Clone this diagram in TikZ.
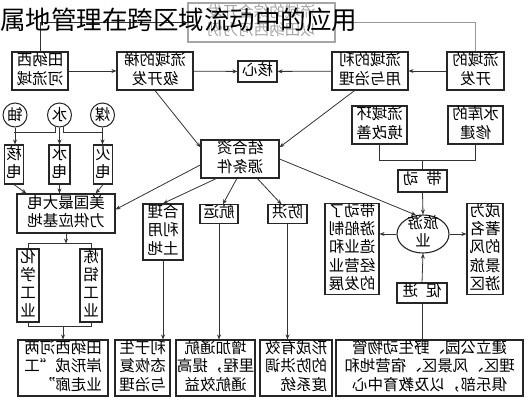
\documentclass[tikz,border=0pt]{standalone}
\usepackage{fontspec}
\setmainfont{Noto Sans CJK SC}
\usetikzlibrary{arrows.meta,calc,shapes.geometric}

% mirrored block of text lines
\newcommand{\rv}[2][c]{\reflectbox{\begin{tabular}{@{}#1@{}}#2\end{tabular}}}

\tikzset{
  box/.style={draw=black!85, line width=1.1pt, inner sep=0pt, align=center, font=\fontsize{15.5}{17.5}\selectfont},
  src/.style={draw=black!85, line width=1pt, circle, inner sep=0pt, minimum size=24pt, font=\fontsize{15.5}{17.5}\selectfont},
  link/.style={draw=black!80, line width=0.8pt},
  arr/.style={-{Stealth[length=5pt,width=4pt]}},
}

\begin{document}
\begin{tikzpicture}[x=1pt,y=-1pt]
  \useasboundingbox (0,0) rectangle (529,400);
  % faded heading box
  \node[box, draw=black!35, text=black!35, minimum width=147, minimum height=39] (Z) at (261.5,22.5) {\rv{流域的综合开发\\以田纳西河为例}};
  % top row
  \node[box, minimum width=56, minimum height=38] (A) at (40,71) {\rv{田纳西\\河流域}};
  \node[box, minimum width=76, minimum height=38] (B) at (155,71) {\rv{流域的梯\\级开发}};
  \node[box, minimum width=39, minimum height=21] (C) at (257.5,71.5) {\rv{核心}};
  \node[box, minimum width=76, minimum height=38] (D) at (370,71) {\rv{流域的利\\用与治理}};
  \node[box, minimum width=57, minimum height=38] (E) at (475.5,71) {\rv{流域的\\开发}};
  % energy sources
  \node[src] (c1) at (15,115) {\reflectbox{铀}};
  \node[src] (c2) at (59.5,115) {\reflectbox{水}};
  \node[src] (c3) at (102.5,115) {\reflectbox{煤}};
  \node[box, minimum width=19, minimum height=39] (P1) at (14,164.5) {\rv{核\\电}};
  \node[box, minimum width=21, minimum height=39] (P2) at (59.5,164.5) {\rv{水\\电}};
  \node[box, minimum width=19, minimum height=39] (P3) at (103,164.5) {\rv{火\\电}};
  \node[box, minimum width=98, minimum height=39] (F) at (66,213.5) {\rv{美国最大电\\力供应基地}};
  \node[box, minimum width=22, minimum height=73] (W) at (28,285.5) {\rv{化\\学\\工\\业}};
  \node[box, minimum width=22, minimum height=73] (X) at (91,285.5) {\rv{炼\\铝\\工\\业}};
  % middle
  \node[box, minimum width=78, minimum height=38] (G) at (240,159) {\rv{结合资\\源条件}};
  \node[box, minimum width=40, minimum height=56] (H) at (163,232) {\rv{合理\\利用\\土地}};
  \node[box, minimum width=38, minimum height=18] (I) at (219,214) {\rv{航运}};
  \node[box, minimum width=39, minimum height=18] (J) at (287.5,214) {\rv{防洪}};
  % tourism
  \node[box, minimum width=55, minimum height=38] (N) at (379.5,125) {\rv{流域环\\境改善}};
  \node[box, minimum width=55, minimum height=38] (O) at (475.5,125) {\rv{水库的\\修建}};
  \node[box, minimum width=49, minimum height=22] (Pd) at (422.5,181) {\rv{带\hspace{0.5em}动}};
  \node[box, ellipse, inner sep=-8pt, minimum width=52, minimum height=38] (L) at (423,234) {\rv{旅游\\业}};
  \node[box, minimum width=54, minimum height=88] (K) at (352,249) {\rv{带动了\\游船制\\造业和\\经营业\\的发展}};
  \node[box, minimum width=36, minimum height=88] (M) at (485,249) {\rv{成为\\著名\\的风\\景旅\\游区}};
  \node[box, minimum width=50, minimum height=20] (Q) at (422,293) {\rv{促\hspace{0.5em}进}};
  % bottom row
  \node[box, minimum width=90, minimum height=56] (S) at (63,368) {\rv[l]{田纳西河两\\岸形成“工\\业走廊”}};
  \node[box, minimum width=55, minimum height=56] (T) at (142.5,368) {\rv{利于生\\态恢复\\与治理}};
  \node[box, minimum width=79, minimum height=56] (U) at (215.5,368) {\rv{增加通航\\里程，提高\\通航效益}};
  \node[box, minimum width=72, minimum height=56] (V) at (296,368) {\rv[l]{形成有效\\的防洪调\\度系统}};
  \node[box, minimum width=187, minimum height=56] (R) at (429.5,368) {\rv{建立公园、野生动物管\\理区、风景区、宿营地和\\俱乐部，以及教育中心}};

  % links along the top
  \draw[link, arr] (A.north) |- (Z.west);
  \draw[link, draw=black!40, arr] (E.north) |- (Z.east);
  \draw[link, arr] (A) -- (B);
  \draw[link, arr] (B) -- (C);
  \draw[link, arr] (D) -- (C);
  \draw[link, arr] (E) -- (D);
  \draw[link, arr] (B.south) -- ($(G.north west)!0.2!(G.south west)$);
  \draw[link, arr] ($(D.south west)!0.3!(D.south east)$) -- ($(G.north east)!0.2!(G.south east)$);
  % sources to plants
  \path (P1.north) ++(0,-12) coordinate (uj);
  \path (P3.north) ++(0,-12) coordinate (hj);
  \draw[link, arr] (c1.south) -- (c1.south |- P1.north);
  \draw[link] (c2.250) |- (uj);
  \draw[link, arr] (c2.south) -- (P2.north);
  \draw[link] (c2.290) |- (hj);
  \draw[link, arr] (c3.south) -- (c3.south |- P3.north);
  \draw[link, arr] (P1.south) -- ($(F.north west)!0.1!(F.north east)$);
  \draw[link, arr] (P2.south) -- (P2.south |- F.north);
  \draw[link, arr] (P3.south) -- ($(F.north west)!0.8!(F.north east)$);
  % industry
  \path (F.south) ++(0,10) coordinate (fj);
  \path (S.north) ++(0,-13) coordinate (sj);
  \draw[link, arr] (F.south) -- (fj);
  \draw[link] (W.north) |- (fj);
  \draw[link] (X.north) |- (fj);
  \draw[link] (W.south) |- (sj);
  \draw[link] (X.south) |- (sj);
  \draw[link, arr] (sj) -- (S.north);
  % resource conditions
  \draw[link, arr] ($(G.north west)!0.65!(G.south west)$) -- ($(F.north east)!0.4!(F.south east)$);
  \draw[link, arr] ($(G.south west)!0.2!(G.south east)$) -- (H.north);
  \draw[link, arr] ($(G.south west)!0.46!(G.south east)$) -- ($(I.north west)!0.6!(I.north east)$);
  \draw[link, arr] ($(G.south west)!0.72!(G.south east)$) -- ($(J.north west)!0.35!(J.north east)$);
  \draw[link, arr] (G.east) -- (L.110);
  \draw[link, arr] (H.south) -- (H.south |- T.north);
  \draw[link, arr] (I.south) -- (I.south |- U.north);
  \draw[link, arr] (J.south) -- (J.south |- V.north);
  % tourism links
  \path (Pd.north) ++(0,-9) coordinate (nj);
  \draw[link] (N.south) |- (nj) -| (O.south);
  \draw[link] (nj) -- (Pd.north);
  \draw[link, arr] (Pd.south) -- (L.north);
  \draw[link, arr] (L.west) -- (L.west -| K.east);
  \draw[link, arr] (L.east) -- (L.east -| M.west);
  \draw[link, arr] (Q.north) -- (L.south);
  \draw[link] (Q.south |- R.north) -- (Q.south);
  % title
  \node[anchor=west, inner sep=0pt, font=\fontsize{25.5}{26}\selectfont] (title) at (0,20) {属地管理在跨区域流动中的应用};
\end{tikzpicture}
\end{document}
